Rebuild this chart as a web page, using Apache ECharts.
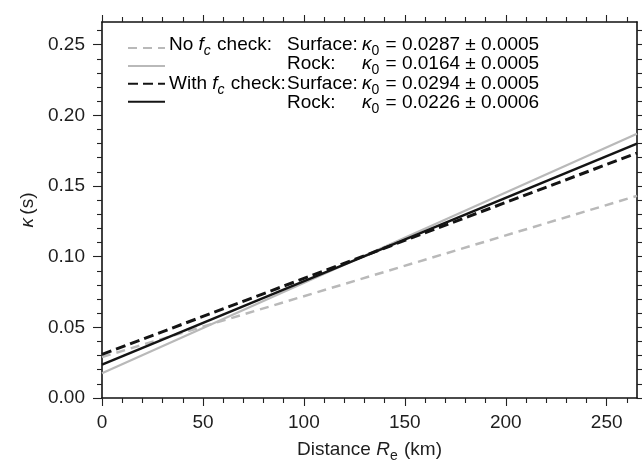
<!DOCTYPE html>
<html>
<head>
<meta charset="utf-8">
<script src="https://cdn.jsdelivr.net/npm/echarts@6/dist/echarts.min.js"></script>
<style>
html,body{margin:0;padding:0;background:#fff;}
#chart{width:642px;height:462px;}
</style>
</head>
<body>
<div id="chart"></div>
<script>
// ---- data ----
var distances = [0, 265];
var noFcSurface = [0.0290, 0.1430];
var noFcRock = [0.0175, 0.1870];
var withFcSurface = [0.0308, 0.1733];
var withFcRock = [0.0236, 0.1800];
var seriesNames = ['No fc Surface', 'No fc Rock', 'With fc Surface', 'With fc Rock'];
var xMajorTicks = [0, 50, 100, 150, 200, 250];
var xMinorTicks = [10, 20, 30, 40, 60, 70, 80, 90, 110, 120, 130, 140, 160, 170, 180, 190, 210, 220, 230, 240, 260];
var yMajorTicks = [0, 0.05, 0.10, 0.15, 0.20, 0.25];
var yMinorTicks = [0.01, 0.02, 0.03, 0.04, 0.06, 0.07, 0.08, 0.09, 0.11, 0.12, 0.13, 0.14, 0.16, 0.17, 0.18, 0.19, 0.21, 0.22, 0.23, 0.24, 0.26];
var legendCol1 = [['No ', 'f', 'c', ' check:'], null, ['With ', 'f', 'c', ' check:'], null];
var legendCol2 = ['Surface:', 'Rock:', 'Surface:', 'Rock:'];
var legendCol3 = [' = 0.0287 ± 0.0005', ' = 0.0164 ± 0.0005', ' = 0.0294 ± 0.0005', ' = 0.0226 ± 0.0006'];

var FONT = 'Liberation Sans, Arial, Helvetica, sans-serif';
var FS = 19;
var GRAY = '#b9b9b9';
var BLACK = '#141414';
var TXT = '#1e1e1e';

function pairs(xs, ys) { return xs.map(function (x, i) { return [x, ys[i]]; }); }

var baseX = { type: 'value', min: 0, max: 265, splitLine: { show: false } };
var baseY = { type: 'value', min: 0, max: 0.266, splitLine: { show: false } };

function mkX(pos, ticks, len, showLine, extra) {
  return Object.assign({}, baseX, {
    position: pos,
    axisLine: { show: showLine, onZero: false, lineStyle: { color: '#111', width: 1.6 } },
    axisTick: { show: true, inside: false, length: len, customValues: ticks, lineStyle: { color: '#222', width: 1.1 } },
    axisLabel: { show: false }
  }, extra || {});
}
function mkY(pos, ticks, len, showLine, extra) {
  return Object.assign({}, baseY, {
    position: pos,
    axisLine: { show: showLine, onZero: false, lineStyle: { color: '#111', width: 1.6 } },
    axisTick: { show: true, inside: false, length: len, customValues: ticks, lineStyle: { color: '#222', width: 1.1 } },
    axisLabel: { show: false }
  }, extra || {});
}

var richMain = {
  n: { fontFamily: FONT, fontSize: FS, color: TXT, verticalAlign: 'bottom', padding: [0, 0, 4, 0] },
  i: { fontFamily: FONT, fontSize: FS, color: TXT, fontStyle: 'italic', verticalAlign: 'bottom', padding: [0, 0, 4, 0] },
  s: { fontFamily: FONT, fontSize: 14, color: TXT, verticalAlign: 'bottom', padding: [0, 1, 0, 0] },
  si: { fontFamily: FONT, fontSize: 14, color: TXT, fontStyle: 'italic', verticalAlign: 'bottom', padding: [0, 1, 0, 0] }
};

var xAxes = [
  mkX('bottom', xMajorTicks, 8, true, {
    axisLabel: { show: true, customValues: xMajorTicks, margin: 15, fontFamily: FONT, fontSize: FS, color: TXT },
    name: '{n|Distance }{i|R}{s|e}{n| (km)}',
    nameLocation: 'middle',
    nameGap: 42,
    nameTextStyle: { rich: richMain }
  }),
  mkX('bottom', xMinorTicks, 5, false),
  mkX('top', xMajorTicks, 7, true),
  mkX('top', xMinorTicks, 5, false)
];
var yAxes = [
  mkY('left', yMajorTicks, 9, true, {
    axisLabel: { show: true, customValues: yMajorTicks, margin: 17, fontFamily: FONT, fontSize: FS, color: TXT,
      formatter: function (v) { return v.toFixed(2); } },
    name: '{i|κ} {n|(s)}',
    nameLocation: 'middle',
    nameGap: 60,
    nameRotate: 90,
    nameTextStyle: { rich: richMain }
  }),
  mkY('left', yMinorTicks, 5, false),
  mkY('right', yMajorTicks, 7, true),
  mkY('right', yMinorTicks, 5, false)
];

function mkSeries(name, ys, color, type, width) {
  return {
    name: name, type: 'line', xAxisIndex: 0, yAxisIndex: 0,
    data: pairs(distances, ys), symbol: 'none', silent: true,
    lineStyle: { color: color, width: width, type: type },
    itemStyle: { color: color }
  };
}

var graphics = [];
var rowY = [45, 64.5, 84, 103.5];
for (var r = 0; r < 4; r++) {
  if (legendCol1[r]) {
    var c = legendCol1[r];
    graphics.push({ type: 'text', left: 169, top: rowY[r] - 10,
      style: { text: '{n|' + c[0] + '}{i|' + c[1] + '}{si|' + c[2] + '}{n|' + c[3] + '}', rich: richMain } });
  }
  graphics.push({ type: 'text', left: 287, top: rowY[r] - 10,
    style: { text: '{n|' + legendCol2[r] + '}', rich: richMain } });
  graphics.push({ type: 'text', left: 362, top: rowY[r] - 10,
    style: { text: '{i|κ}{s|0}{n|' + legendCol3[r] + '}', rich: richMain } });
}

var chart = echarts.init(document.getElementById('chart'), null, { renderer: 'canvas' });
chart.setOption({
  animation: false,
  backgroundColor: '#fff',
  grid: { left: 102, right: 5, top: 22, bottom: 64, containLabel: false, outerBoundsMode: 'none' },
  xAxis: xAxes,
  yAxis: yAxes,
  legend: {
    data: seriesNames,
    orient: 'vertical',
    left: 122, top: 36,
    itemWidth: 37, itemHeight: 14, itemGap: 5.3,
    itemStyle: { opacity: 0 },
    formatter: function () { return ''; },
    textStyle: { fontSize: 6 },
    selectedMode: false
  },
  graphic: graphics,
  series: [
    mkSeries(seriesNames[0], noFcSurface, GRAY, [9, 6], 2.5),
    mkSeries(seriesNames[1], noFcRock, GRAY, 'solid', 2.2),
    mkSeries(seriesNames[2], withFcSurface, BLACK, [10, 5], 3),
    mkSeries(seriesNames[3], withFcRock, BLACK, 'solid', 2.5)
  ]
});
</script>
</body>
</html>
